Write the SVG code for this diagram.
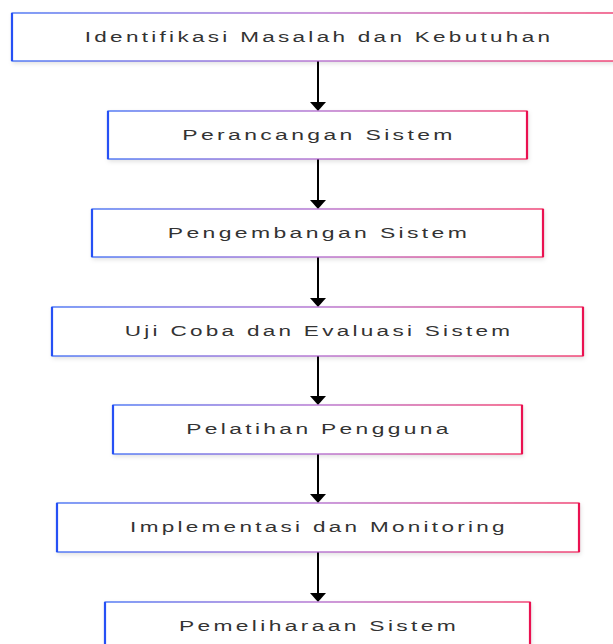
<svg xmlns="http://www.w3.org/2000/svg" width="613" height="644" viewBox="0 0 613 644">
<defs>
<linearGradient id="g" x1="0" y1="0" x2="1" y2="0">
<stop offset="0" stop-color="#2a5cf2"/>
<stop offset="0.5" stop-color="#a85bc8"/>
<stop offset="1" stop-color="#ee1a55"/>
</linearGradient>
<filter id="sh" x="-5%" y="-20%" width="110%" height="140%">
<feDropShadow dx="1" dy="2" stdDeviation="2" flood-color="#000" flood-opacity="0.12"/>
</filter>
</defs>
<style>
.box{fill:#fff;stroke:url(#g);stroke-width:1.2;filter:url(#sh)}
.l{stroke:#2650f5;stroke-width:2.2}
.r{stroke:#ea1150;stroke-width:2.2}
.t{font-family:"Liberation Sans",Arial,sans-serif;font-size:15px;fill:#333;text-anchor:middle;dominant-baseline:central;letter-spacing:2.2px}
.c{stroke:#000;stroke-width:2;fill:none}
</style>
<rect width="613" height="644" fill="#fff"/>
<g id="connectors">
<line class="c" x1="318" y1="61" x2="318" y2="102"/>
<path d="M310,102 L326,102 L318,111 Z"/>
<line class="c" x1="318" y1="159" x2="318" y2="200"/>
<path d="M310,200 L326,200 L318,209 Z"/>
<line class="c" x1="318" y1="257" x2="318" y2="298"/>
<path d="M310,298 L326,298 L318,307 Z"/>
<line class="c" x1="318" y1="356" x2="318" y2="396"/>
<path d="M310,396 L326,396 L318,405 Z"/>
<line class="c" x1="318" y1="454" x2="318" y2="494"/>
<path d="M310,494 L326,494 L318,503 Z"/>
<line class="c" x1="318" y1="552" x2="318" y2="593"/>
<path d="M310,593 L326,593 L318,602 Z"/>
</g>
<g id="n1">
<rect class="box" x="12" y="13" width="611" height="48"/>
<line class="l" x1="12" y1="13" x2="12" y2="61"/>
<text class="t" transform="translate(319,37) scale(1.5,1)">Identifikasi Masalah dan Kebutuhan</text>
</g>
<g id="n2">
<rect class="box" x="108" y="111" width="419" height="48"/>
<line class="l" x1="108" y1="111" x2="108" y2="159"/>
<line class="r" x1="527" y1="111" x2="527" y2="159"/>
<text class="t" transform="translate(319,135) scale(1.53,1)">Perancangan Sistem</text>
</g>
<g id="n3">
<rect class="box" x="92" y="209" width="451" height="48"/>
<line class="l" x1="92" y1="209" x2="92" y2="257"/>
<line class="r" x1="543" y1="209" x2="543" y2="257"/>
<text class="t" transform="translate(319,233) scale(1.53,1)">Pengembangan Sistem</text>
</g>
<g id="n4">
<rect class="box" x="52" y="307" width="531" height="49"/>
<line class="l" x1="52" y1="307" x2="52" y2="356"/>
<line class="r" x1="583" y1="307" x2="583" y2="356"/>
<text class="t" transform="translate(319,331) scale(1.5,1)">Uji Coba dan Evaluasi Sistem</text>
</g>
<g id="n5">
<rect class="box" x="113" y="405" width="409" height="49"/>
<line class="l" x1="113" y1="405" x2="113" y2="454"/>
<line class="r" x1="522" y1="405" x2="522" y2="454"/>
<text class="t" transform="translate(319,429) scale(1.52,1)">Pelatihan Pengguna</text>
</g>
<g id="n6">
<rect class="box" x="57" y="503" width="522" height="49"/>
<line class="l" x1="57" y1="503" x2="57" y2="552"/>
<line class="r" x1="579" y1="503" x2="579" y2="552"/>
<text class="t" transform="translate(319,527) scale(1.5,1)">Implementasi dan Monitoring</text>
</g>
<g id="n7">
<rect class="box" x="105" y="602" width="425" height="49"/>
<line class="l" x1="105" y1="602" x2="105" y2="651"/>
<line class="r" x1="530" y1="602" x2="530" y2="651"/>
<text class="t" transform="translate(319,626) scale(1.52,1)">Pemeliharaan Sistem</text>
</g>
</svg>
